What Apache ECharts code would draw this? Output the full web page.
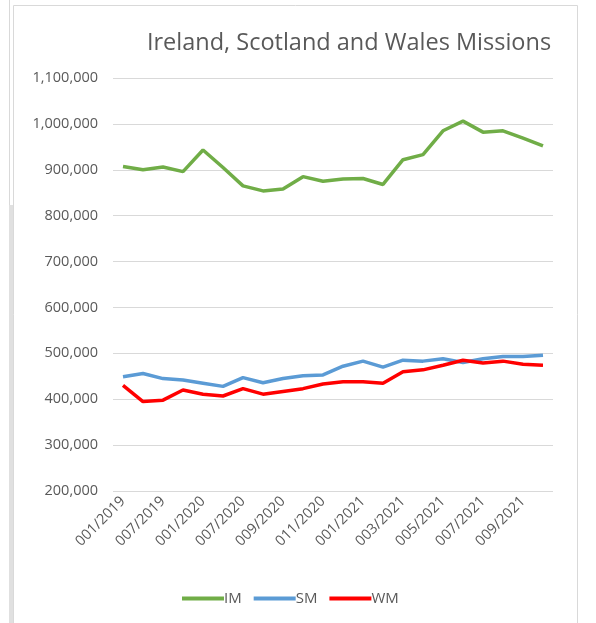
<!DOCTYPE html>
<html><head><meta charset="utf-8">
<script src="https://cdn.jsdelivr.net/npm/echarts@6/dist/echarts.min.js"></script>
<style>html,body{margin:0;padding:0;background:#fff}#c{width:596px;height:623px}</style>
</head><body><div id="c"></div>
<script>
var categories = ['001/2019','004/2019','007/2019','010/2019','001/2020','004/2020','007/2020','008/2020','009/2020','010/2020','011/2020','012/2020','001/2021','002/2021','003/2021','004/2021','005/2021','006/2021','007/2021','008/2021','009/2021','010/2021'];
var imValues = [907000,900000,906000,896000,943000,905000,865000,854000,858000,885000,875000,880000,881000,868000,922000,933000,985000,1006000,982000,985000,969000,952000];
var smValues = [449000,456000,445000,442000,435000,428000,447000,436000,445000,451000,453000,472000,483000,470000,485000,483000,488000,480000,488000,493000,493000,496000];
var wmValues = [430000,395000,398000,420000,411000,407000,423000,411000,417000,423000,433000,438000,438000,435000,460000,464000,474000,485000,479000,483000,476000,474000];
var shownLabels = ['001/2019','007/2019','001/2020','007/2020','009/2020','011/2020','001/2021','003/2021','005/2021','007/2021','009/2021'];

var chart = echarts.init(document.getElementById('c'), null, {renderer:'canvas'});
var font = '"Open Sans", "Liberation Sans", sans-serif';
function ser(name, data, color){
  return {name:name, type:'line', data:data, symbol:'none', smooth:false,
    lineStyle:{width:3.5, color:color}, itemStyle:{color:color}};
}
chart.setOption({
  animation:false,
  title:{text:'Ireland, Scotland and Wales Missions', left:344, top:26, textAlign:'center',
    textStyle:{fontFamily:font, fontSize:23.5, fontWeight:'normal', color:'#595959'}},
  graphic:[
    {type:'line', shape:{x1:9.5,y1:0,x2:9.5,y2:205}, style:{stroke:'#d9d9d9', lineWidth:1}},
    {type:'rect', shape:{x:9,y:205,width:4,height:420}, style:{fill:'#e0e0e0'}},
    {type:'rect', shape:{x:13.5,y:5.5,width:564,height:640}, style:{fill:'none', stroke:'#d9d9d9', lineWidth:1}}
  ],
  grid:{left:113, right:43, top:78, bottom:132, containLabel:false},
  legend:{bottom:12, left:177, itemWidth:42, itemHeight:4, itemGap:12,
    icon:'rect',
    textStyle:{fontFamily:font, fontSize:15, color:'#595959', padding:[0,0,0,-5]},
    data:['IM','SM','WM']},
  xAxis:{type:'category', data:categories, boundaryGap:true,
    axisLine:{show:false}, axisTick:{show:false},
    axisLabel:{rotate:45, interval:function(i,v){return shownLabels.indexOf(v)>=0;},
      fontFamily:font, fontSize:14.5, color:'#595959', margin:8}},
  yAxis:{type:'value', min:200000, max:1100000, interval:100000,
    axisLine:{show:false}, axisTick:{show:false},
    splitLine:{lineStyle:{color:'#d9d9d9', width:1}},
    axisLabel:{fontFamily:font, fontSize:14.5, color:'#595959', margin:15,
      formatter:function(v){return v.toLocaleString('en-US');}}},
  series:[ser('IM', imValues, '#70AD47'), ser('SM', smValues, '#5B9BD5'), ser('WM', wmValues, '#FF0000')]
});
</script></body></html>
